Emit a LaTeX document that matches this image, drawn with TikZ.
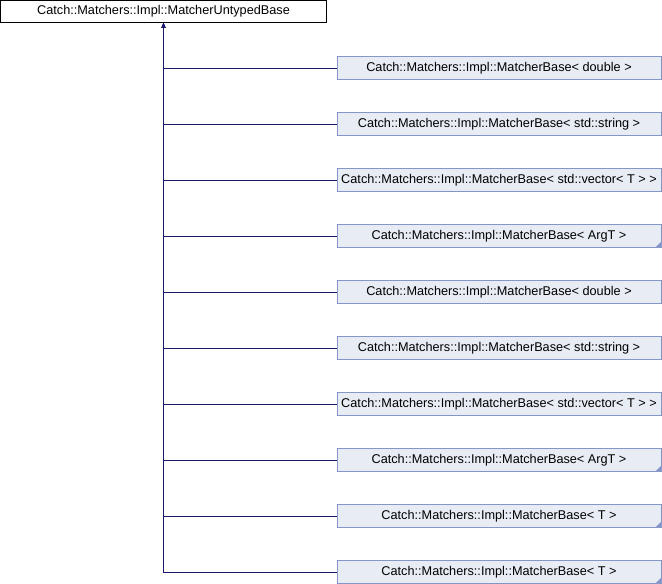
\documentclass[tikz,border=0pt]{standalone}
\usepackage{fontspec}
\setmainfont{Liberation Sans}
\usetikzlibrary{arrows.meta}
\definecolor{edgeblue}{HTML}{191970}
\definecolor{boxfill}{HTML}{E8ECF5}
\definecolor{boxline}{HTML}{8497C8}
\tikzset{
  basebox/.style={draw=black, fill=white, minimum width=326pt, minimum height=22pt, inner sep=0pt, font=\fontsize{12.7}{14}\selectfont},
  derivedbox/.style={draw=boxline, fill=boxfill, minimum width=324pt, minimum height=23pt, inner sep=0pt, font=\fontsize{12.7}{14}\selectfont},
  inherit/.style={draw=edgeblue, -{Latex[length=5pt,width=4pt]}}
}
\begin{document}
\begin{tikzpicture}[x=1pt,y=-1pt]
  \useasboundingbox (0,0) rectangle (662,584);
  \node[basebox] (base) at (163.5,11.5) {Catch::Matchers::Impl::MatcherUntypedBase};
  \foreach \n/\t [count=\i from 0] in {%
      dbl/{double},%
      str/{std::string},%
      vec/{std::vector< T >},%
      argt/{ArgT},%
      dblb/{double},%
      strb/{std::string},%
      vecb/{std::vector< T >},%
      argtb/{ArgT},%
      t/{T},%
      tb/{T}} {
    \node[derivedbox] (\n) at (499,68+56*\i) {Catch::Matchers::Impl::MatcherBase< \t\ >};
    \draw[inherit] (\n.west) -| (base.south);
  }
  % truncated children
  \fill[boxline] (argt.south east) -- ++(0,-6) -- ++(-6,6) -- cycle;
  \fill[boxline] (argtb.south east) -- ++(0,-6) -- ++(-6,6) -- cycle;
  \fill[boxline] (t.south east) -- ++(0,-6) -- ++(-6,6) -- cycle;
  \fill[boxline] (tb.south east) -- ++(0,-6) -- ++(-6,6) -- cycle;
\end{tikzpicture}
\end{document}
